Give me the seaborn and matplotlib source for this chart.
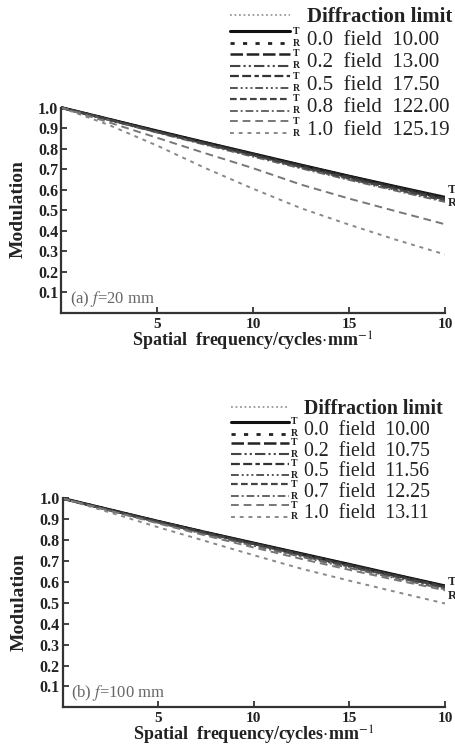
import matplotlib
matplotlib.use("Agg")
import matplotlib.pyplot as plt
import seaborn as sns
from matplotlib.legend_handler import HandlerBase
from matplotlib.lines import Line2D
from matplotlib.text import Text

# --- data ---
freq = [0, 2.5, 5, 7.5, 10, 12.5, 15, 17.5, 20]

# (a) f = 20 mm
diff_a = [1.0, 0.944, 0.888, 0.832, 0.777, 0.722, 0.668, 0.616, 0.566]
t00_a = [1.0, 0.943, 0.886, 0.830, 0.775, 0.720, 0.666, 0.614, 0.563]
r00_a = [1.0, 0.942, 0.885, 0.829, 0.773, 0.718, 0.664, 0.611, 0.560]
t02_a = [1.0, 0.943, 0.885, 0.829, 0.774, 0.719, 0.665, 0.612, 0.561]
r02_a = [1.0, 0.941, 0.882, 0.825, 0.769, 0.713, 0.658, 0.604, 0.552]
t05_a = [1.0, 0.942, 0.884, 0.827, 0.771, 0.716, 0.662, 0.609, 0.558]
r05_a = [1.0, 0.940, 0.880, 0.822, 0.765, 0.708, 0.652, 0.598, 0.546]
t08_a = [1.0, 0.941, 0.882, 0.824, 0.767, 0.711, 0.656, 0.602, 0.550]
r08_a = [1.0, 0.939, 0.878, 0.819, 0.761, 0.704, 0.648, 0.594, 0.541]
t10_a = [1.0, 0.928, 0.853, 0.778, 0.705, 0.625, 0.557, 0.494, 0.432]
r10_a = [1.0, 0.915, 0.815, 0.706, 0.605, 0.510, 0.430, 0.355, 0.285]
fields_a = ["0.0", "0.2", "0.5", "0.8", "1.0"]
angles_a = ["10.00", "13.00", "17.50", "122.00", "125.19"]

# (b) f = 100 mm
diff_b = [1.0, 0.945, 0.891, 0.838, 0.787, 0.736, 0.685, 0.633, 0.582]
t00_b = [1.0, 0.945, 0.890, 0.837, 0.786, 0.735, 0.684, 0.632, 0.581]
r00_b = [1.0, 0.944, 0.889, 0.836, 0.784, 0.733, 0.682, 0.630, 0.579]
t02_b = [1.0, 0.945, 0.890, 0.837, 0.785, 0.734, 0.683, 0.631, 0.580]
r02_b = [1.0, 0.943, 0.887, 0.833, 0.781, 0.729, 0.677, 0.625, 0.574]
t05_b = [1.0, 0.944, 0.889, 0.836, 0.784, 0.732, 0.681, 0.629, 0.578]
r05_b = [1.0, 0.942, 0.885, 0.830, 0.777, 0.724, 0.672, 0.620, 0.570]
t07_b = [1.0, 0.943, 0.888, 0.834, 0.782, 0.730, 0.678, 0.626, 0.575]
r07_b = [1.0, 0.941, 0.883, 0.827, 0.773, 0.720, 0.667, 0.616, 0.565]
t10_b = [1.0, 0.940, 0.880, 0.822, 0.765, 0.710, 0.658, 0.608, 0.560]
r10_b = [1.0, 0.932, 0.862, 0.795, 0.728, 0.663, 0.606, 0.551, 0.497]
fields_b = ["0.0", "0.2", "0.5", "0.7", "1.0"]
angles_b = ["10.00", "10.75", "11.56", "12.25", "13.11"]

# line styles for T and R of each field (grayscale like the print)
styles_t = [("-", "#111111", 2.2), ((0, (5, 1.5)), "#222222", 1.8),
            ((0, (4, 1.5, 4, 1.5, 2, 1.5)), "#333333", 1.6),
            ((0, (3, 1.5)), "#444444", 1.6), ((0, (4, 2.5)), "#777777", 1.4)]
styles_r = [((0, (1.5, 3)), "#222222", 2.0), ((0, (5, 1.5, 1, 1.5, 1, 1.5)), "#444444", 1.5),
            ((0, (4, 1.5, 1, 1.5, 1, 1.5, 1, 1.5)), "#555555", 1.4),
            ((0, (4, 1.5, 1, 1.5)), "#666666", 1.4), ((0, (2, 2.5)), "#888888", 1.4)]

sns.set_style("ticks")
plt.rcParams["font.family"] = ["Liberation Serif", "DejaVu Serif"]
plt.rcParams["mathtext.fontset"] = "stix"


class HandlerTR(HandlerBase):
    # two stacked sample lines (T above, R below) with small T/R tags
    def create_artists(self, legend, orig_handle, xdescent, ydescent,
                       width, height, fontsize, trans):
        yc = (height - ydescent) / 2
        out = []
        for src, dy, tag in [(orig_handle[0], 4.2, "T"), (orig_handle[1], -4.2, "R")]:
            ln = Line2D([-xdescent, -xdescent + width], [yc + dy, yc + dy])
            ln.update_from(src)
            ln.set_clip_on(False)
            ln.set_clip_box(None)
            ln.set_transform(trans)
            out.append(ln)
            tx = Text(-xdescent + width + 1.5, yc + dy, tag, fontsize=7,
                      fontweight="bold", va="center", ha="left", color="#222222")
            tx.set_transform(trans)
            out.append(tx)
        return out


def draw_panel(ax, diff, t_list, r_list, fields, angles, tag, legend_top, lspace, lsize):
    sns.lineplot(x=freq, y=diff, ax=ax, color="#999999", lw=1.3, linestyle=(0, (1, 1.5)))
    diff_line = ax.lines[-1]
    pairs = []
    for t_vals, r_vals, st, sr in zip(t_list, r_list, styles_t, styles_r):
        sns.lineplot(x=freq, y=r_vals, ax=ax, color=sr[1], lw=sr[2], linestyle=sr[0])
        r_line = ax.lines[-1]
        sns.lineplot(x=freq, y=t_vals, ax=ax, color=st[1], lw=st[2], linestyle=st[0])
        t_line = ax.lines[-1]
        pairs.append((t_line, r_line))

    ax.set_xlim(0, 20)
    ax.set_ylim(0, 1.01)
    ax.spines["left"].set_bounds(0, 1.0)
    ax.set_xticks([5, 10, 15, 20])
    ax.set_xticklabels(["5", "10", "15", "10"])
    ax.set_yticks([0.1, 0.2, 0.3, 0.4, 0.5, 0.6, 0.7, 0.8, 0.9, 1.0])
    ax.set_yticklabels([f"{v:.1f}" for v in ax.get_yticks()])
    for lab in ax.get_xticklabels() + ax.get_yticklabels():
        lab.set_fontweight("bold")
    ax.tick_params(direction="in", length=4, width=1.2, labelsize=11.5, pad=2,
                   colors="#222222")
    ax.tick_params(axis="x", pad=3.5, labelsize=11)
    for sp in ["left", "bottom"]:
        ax.spines[sp].set_linewidth(1.6)
        ax.spines[sp].set_color("#333333")
    sns.despine(ax=ax)

    ax.set_ylabel("Modulation", fontsize=14, fontweight="bold", color="#222222")
    ax.yaxis.set_label_coords(-0.09, 0.5)
    ax.set_xlabel("Spatial  frequency/cycles$\\cdot$mm$^{-1}$", fontsize=13,
                  fontweight="bold", color="#222222", labelpad=-1)
    ax.text(0.45, 0.07, tag, fontsize=12, color="#666666", va="center", ha="left")
    ax.text(20.15, 0.60, "T", fontsize=9, fontweight="bold", color="#222222",
            va="center", clip_on=False)
    ax.text(20.15, 0.535, "R", fontsize=9, fontweight="bold", color="#222222",
            va="center", clip_on=False)

    handles = [diff_line] + pairs
    labels = ["Diffraction limit"] + [f"{f}  field  {a}" for f, a in zip(fields, angles)]
    leg = ax.legend(handles, labels, handler_map={tuple: HandlerTR()},
                    loc="upper right", bbox_to_anchor=legend_top,
                    bbox_transform=ax.figure.transFigure, frameon=False,
                    fontsize=lsize, handlelength=2.9, handletextpad=0.77,
                    labelspacing=lspace, borderpad=0.1, borderaxespad=0)
    for txt in leg.get_texts():
        txt.set_color("#222222")
    leg.get_texts()[0].set_fontweight("bold")


fig = plt.figure(figsize=(4.56, 7.49), dpi=100)
W, H = 456, 749
ax1 = fig.add_axes([61 / W, (H - 313) / H, 384 / W, 207.5 / H])
ax2 = fig.add_axes([62.5 / W, (H - 707.3) / H, 382.5 / W, 211 / H])

draw_panel(ax1, diff_a, [t00_a, t02_a, t05_a, t08_a, t10_a],
           [r00_a, r02_a, r05_a, r08_a, r10_a], fields_a, angles_a,
           "(a) $f$=20 mm", (454 / W, 1 - 5 / H), 0.14, 15)
draw_panel(ax2, diff_b, [t00_b, t02_b, t05_b, t07_b, t10_b],
           [r00_b, r02_b, r05_b, r07_b, r10_b], fields_b, angles_b,
           "(b) $f$=100 mm", (445 / W, 1 - 397 / H), 0.09, 14.3)

fig.savefig("out.png", dpi=100)
